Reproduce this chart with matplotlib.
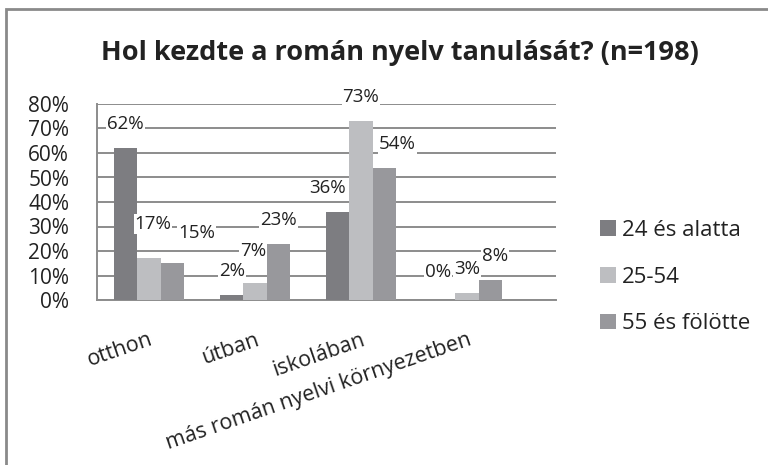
import matplotlib.pyplot as plt
import matplotlib.transforms as mtransforms
from matplotlib.patches import Rectangle
import numpy as np

plt.rcParams['font.family'] = ['Open Sans', 'DejaVu Sans']

categories = ["otthon", "útban", "iskolában", "más román nyelvi környezetben"]
series_names = ["24 és alatta", "25-54", "55 és fölötte"]
young = [62, 2, 36, 0]
middle = [17, 7, 73, 3]
old = [15, 23, 54, 8]
colors = ["#7d7d81", "#bdbec1", "#98989c"]

# small label nudges in pixels (series, category) -> (dx, dy)
nudge = {(1, 0): (4, 10), (2, 0): (24, 6), (1, 1): (-2, 8), (0, 2): (-10, 0),
         (2, 2): (13, 0), (0, 3): (-6, 4), (2, 3): (5, 0)}

fig = plt.figure(figsize=(7.68, 4.65), dpi=100)
ax = fig.add_axes([97 / 768, 1 - 300 / 465, (556 - 97) / 768, (300 - 104) / 465])

# outer chart frame (cut off at the right and bottom)
fig.patches.append(Rectangle((6 / 768, -0.1), 1.1, 1 - 9 / 465 + 0.1,
                             transform=fig.transFigure, fill=False,
                             edgecolor="#8a8a8a", linewidth=2))

x = np.arange(len(categories))
w = 0.22
data = [young, middle, old]
for i, (vals, c, name) in enumerate(zip(data, colors, series_names)):
    bars = ax.bar(x + (i - 1) * w, vals, w, color=c, label=name, zorder=3)
    for j, (b, v) in enumerate(zip(bars, vals)):
        dx, dy = nudge.get((i, j), (0, 0))
        ax.annotate(f"{v}%", (b.get_x() + b.get_width() / 2, v),
                    xytext=(dx * 0.72, (24 + dy) * 0.72), textcoords="offset points",
                    ha="center", va="center", fontsize=13.5, color="#222222",
                    bbox=dict(boxstyle="square,pad=0.05", fc="white", ec="none"),
                    zorder=4)

ax.set_ylim(0, 80)
ax.set_xlim(-0.49, 3.84)
ax.set_yticks(range(0, 81, 10))
ax.set_yticklabels([f"{t}%" for t in range(0, 81, 10)], fontsize=15, color="#222222")
ax.yaxis.grid(True, color="#8c8c8c", linewidth=1.4, zorder=0)
ax.tick_params(axis="y", length=0, pad=20)
for s in ["top", "right"]:
    ax.spines[s].set_visible(False)
for s in ["left", "bottom"]:
    ax.spines[s].set_color("#8c8c8c")
    ax.spines[s].set_linewidth(1.4)

ax.set_xticks(x)
ax.set_xticklabels(categories, rotation=19, ha="right", rotation_mode="anchor",
                   fontsize=15.5, color="#222222")
offset = mtransforms.ScaledTranslation(24 / 100, 0, fig.dpi_scale_trans)
for lab in ax.get_xticklabels():
    lab.set_transform(lab.get_transform() + offset)
ax.tick_params(axis="x", length=0, pad=21)

fig.text(400 / 768, 1 - 53 / 465, "Hol kezdte a román nyelv tanulását? (n=198)",
         ha="center", va="center", fontsize=19.5, fontweight="bold", color="#222222")

fig.legend(loc="upper left", bbox_to_anchor=(580 / 768, 1 - 200 / 465),
           frameon=False, fontsize=16, labelspacing=1.15, handlelength=0.7,
           handleheight=0.7, handletextpad=0.3, labelcolor="#222222")

fig.savefig("out.png", dpi=100)
